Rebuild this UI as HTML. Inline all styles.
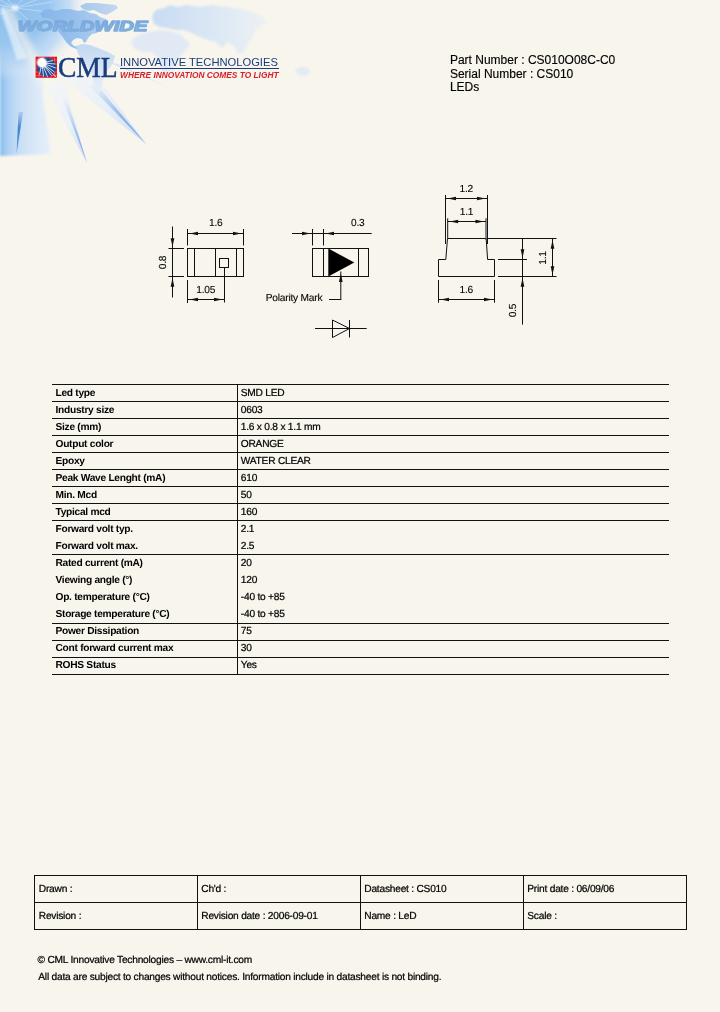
<!DOCTYPE html>
<html>
<head>
<meta charset="utf-8">
<title>CML CS010O08C-C0</title>
<style>
html,body{margin:0;padding:0;}
body{width:720px;height:1012px;position:relative;overflow:hidden;background:#f8f5ed;font-family:"Liberation Sans",sans-serif;color:#000;}
#wrap{position:absolute;left:0;top:0;width:720px;height:1012px;will-change:transform;}
.abs{position:absolute;white-space:nowrap;}
#bg{position:absolute;left:0;top:0;}
.hl{position:absolute;left:52px;width:617px;height:1px;background:#111;}
.lab{position:absolute;left:55.5px;font-weight:bold;font-size:10.2px;letter-spacing:-0.28px;text-rendering:geometricPrecision;line-height:12px;white-space:nowrap;}
.val{-webkit-text-stroke:0.22px #000;position:absolute;left:240.8px;font-size:10.2px;letter-spacing:-0.23px;text-rendering:geometricPrecision;line-height:12px;white-space:nowrap;}
.ft{-webkit-text-stroke:0.22px #000;position:absolute;font-size:10.2px;letter-spacing:-0.23px;text-rendering:geometricPrecision;line-height:12px;white-space:nowrap;}
</style>
</head>
<body>
<div id="wrap">
<svg id="bg" width="720" height="260" viewBox="0 0 720 260">
<defs>
<radialGradient id="glow" cx="0" cy="0" r="1" gradientUnits="userSpaceOnUse" gradientTransform="translate(8,6) scale(80,74)">
<stop offset="0" stop-color="#8abeee" stop-opacity="1"/>
<stop offset="0.5" stop-color="#97c5ef" stop-opacity="1"/>
<stop offset="0.78" stop-color="#b8d6f3" stop-opacity="0.7"/>
<stop offset="1" stop-color="#e8f0f8" stop-opacity="0"/>
</radialGradient>
<linearGradient id="band" x1="0" y1="0" x2="52" y2="0" gradientUnits="userSpaceOnUse">
<stop offset="0" stop-color="#86bdee"/>
<stop offset="0.12" stop-color="#a6cdf2"/>
<stop offset="0.3" stop-color="#c2dbf5"/>
<stop offset="0.55" stop-color="#d5e5f7"/>
<stop offset="1" stop-color="#e7f0fa"/>
</linearGradient>
<linearGradient id="mapg" x1="40" y1="0" x2="330" y2="0" gradientUnits="userSpaceOnUse">
<stop offset="0" stop-color="#84b5e8"/>
<stop offset="0.12" stop-color="#98c0ec"/>
<stop offset="0.25" stop-color="#b9d3f0"/>
<stop offset="0.45" stop-color="#d9e6f4"/>
<stop offset="1" stop-color="#e3ebf4"/>
</linearGradient>
<linearGradient id="eug" x1="148" y1="0" x2="270" y2="0" gradientUnits="userSpaceOnUse">
<stop offset="0" stop-color="#c6dbf2"/>
<stop offset="0.4" stop-color="#d6e4f4"/>
<stop offset="0.8" stop-color="#e6edf4"/>
<stop offset="1" stop-color="#f0f2f1"/>
</linearGradient>
<linearGradient id="sag" x1="0" y1="44" x2="0" y2="96" gradientUnits="userSpaceOnUse">
<stop offset="0" stop-color="#bcd6f2"/>
<stop offset="0.5" stop-color="#d5e4f5"/>
<stop offset="1" stop-color="#eaf0f6"/>
</linearGradient>
<linearGradient id="ww" x1="0" y1="19" x2="0" y2="33" gradientUnits="userSpaceOnUse">
<stop offset="0" stop-color="#6da2da"/>
<stop offset="1" stop-color="#9dc2ea"/>
</linearGradient>
<linearGradient id="ray2" x1="50" y1="85" x2="86" y2="162" gradientUnits="userSpaceOnUse">
<stop offset="0" stop-color="#f0f4fa" stop-opacity="0.6"/>
<stop offset="0.55" stop-color="#e9f0f9"/>
<stop offset="1" stop-color="#cddef4"/>
</linearGradient>
<linearGradient id="ray2e" x1="60" y1="100" x2="86" y2="162" gradientUnits="userSpaceOnUse">
<stop offset="0" stop-color="#a9c6ec" stop-opacity="0"/>
<stop offset="0.6" stop-color="#8db3e4" stop-opacity="0.9"/>
<stop offset="1" stop-color="#6f9fdb"/>
</linearGradient>
<linearGradient id="ray3" x1="70" y1="75" x2="145" y2="143" gradientUnits="userSpaceOnUse">
<stop offset="0" stop-color="#f0f4fa" stop-opacity="0.6"/>
<stop offset="0.5" stop-color="#e6eef9"/>
<stop offset="1" stop-color="#cddef4"/>
</linearGradient>
<linearGradient id="ray3e" x1="85" y1="88" x2="145" y2="143" gradientUnits="userSpaceOnUse">
<stop offset="0" stop-color="#a9c6ec" stop-opacity="0"/>
<stop offset="0.55" stop-color="#8db3e4" stop-opacity="0.9"/>
<stop offset="1" stop-color="#6f9fdb"/>
</linearGradient>
<linearGradient id="ray1" x1="0" y1="110" x2="0" y2="154" gradientUnits="userSpaceOnUse">
<stop offset="0" stop-color="#7fb0e6" stop-opacity="0.3"/>
<stop offset="0.4" stop-color="#4584cf"/>
<stop offset="1" stop-color="#5b95d8"/>
</linearGradient>
<filter id="b1" x="-20%" y="-20%" width="140%" height="140%"><feGaussianBlur stdDeviation="1.2"/></filter>
<filter id="b2" x="-30%" y="-30%" width="160%" height="160%"><feGaussianBlur stdDeviation="3"/></filter>
<filter id="b05" x="-20%" y="-20%" width="140%" height="140%"><feGaussianBlur stdDeviation="0.5"/></filter>
</defs>
<polygon points="0,0 74,0 64,14 58,38 50,56 45,76 43,100 47,126 51,154 0,156" fill="url(#band)" filter="url(#b1)"/>
<rect x="0" y="0" width="140" height="110" fill="url(#glow)"/>
<polygon points="3,9 9,6 62,98 48,100" fill="#f8f5ed" opacity="0.7" filter="url(#b2)"/>
<polygon points="0,9 4,7 27,58 17,60" fill="#f2f8fd" opacity="0.6" filter="url(#b1)"/>
<line x1="15" y1="8" x2="0" y2="0" stroke="#e8f3fc" stroke-width="0.8" opacity="0.55"/>
<line x1="15" y1="8" x2="8" y2="0" stroke="#e8f3fc" stroke-width="0.8" opacity="0.55"/>
<line x1="15" y1="8" x2="22" y2="0" stroke="#e8f3fc" stroke-width="0.8" opacity="0.55"/>
<line x1="15" y1="8" x2="36" y2="0" stroke="#e8f3fc" stroke-width="0.8" opacity="0.55"/>
<line x1="15" y1="8" x2="52" y2="2" stroke="#e8f3fc" stroke-width="0.8" opacity="0.55"/>
<line x1="15" y1="8" x2="48" y2="12" stroke="#e8f3fc" stroke-width="0.8" opacity="0.55"/>
<line x1="15" y1="8" x2="0" y2="5" stroke="#e8f3fc" stroke-width="0.8" opacity="0.55"/>
<line x1="15" y1="8" x2="0" y2="14" stroke="#e8f3fc" stroke-width="0.8" opacity="0.55"/>
<line x1="15" y1="8" x2="30" y2="22" stroke="#e8f3fc" stroke-width="0.8" opacity="0.55"/>
<circle cx="15" cy="8" r="3.5" fill="#fff" opacity="0.6" filter="url(#b1)"/>
<polygon points="45,86 64,80 87,163" fill="url(#ray2)" filter="url(#b05)"/>
<polygon points="62,98 66,96 87,163" fill="url(#ray2e)" filter="url(#b05)"/>
<polygon points="60,76 98,78 146,144" fill="url(#ray3)" filter="url(#b05)"/>
<polygon points="88,84 96,84 146,144" fill="url(#ray3e)" filter="url(#b05)"/>
<polygon points="18.5,112 23,112 16.5,154" fill="url(#ray1)" filter="url(#b05)"/>
<polygon points="108,62 118,64 170,88" fill="#cfdff3" opacity="0.7" filter="url(#b05)"/>
<polygon points="40,14 44,10 50,9 56,11 62,9 70,9 78,11 84,10 90,13 96,14 100,17 106,19 108,22 103,25 98,26 101,29 97,33 92,34 88,38 86,42 84,43 82,39 77,38 73,40 71,43 74,46 78,47 80,50 76,49 70,46 66,42 62,36 58,31 55,25 52,20 47,18 43,18" fill="url(#mapg)" filter="url(#b05)"/>
<polygon points="80,6 86,3 96,3 106,4 116,5 118,8 112,12 106,15 100,13 94,10 88,11 83,9" fill="url(#mapg)" filter="url(#b05)" opacity="0.9"/>
<polygon points="76,46 82,44 90,45 98,48 108,52 115,56 113,63 108,70 104,78 101,88 99,94 96,90 93,80 90,70 84,62 78,54" fill="url(#sag)" filter="url(#b05)" opacity="0.9"/>
<polygon points="152,16 156,10 164,8 170,5 178,7 186,5 198,7 212,5 226,7 240,9 252,12 262,16 268,22 262,26 256,30 252,38 248,44 244,52 238,54 234,46 228,42 222,48 216,42 208,40 198,36 190,32 184,30 176,30 168,28 160,27 154,24" fill="url(#eug)" filter="url(#b1)"/>
<polygon points="134,38 140,34 150,32 160,30 170,31 180,34 186,40 190,44 186,50 180,56 176,62 172,70 166,74 160,68 158,58 152,52 142,52 134,48 131,42" fill="#dbe7f5" filter="url(#b1)" opacity="0.8"/>
<polygon points="296,69 302,67 308,68 310,72 306,76 299,75 296,72" fill="#dfe9f5" filter="url(#b1)" opacity="0.9"/>
<text x="17.6" y="31.4" font-family="Liberation Sans, sans-serif" font-weight="bold" font-style="italic" font-size="14.8" fill="url(#ww)" stroke="#7cabde" stroke-width="1.3" stroke-linejoin="round" textLength="130" lengthAdjust="spacingAndGlyphs">WORLDWIDE</text>
</svg>

<div class="abs" id="pn0" style="left:449.9px;top:52.84px;font-size:12px;line-height:14px;-webkit-text-stroke:0.15px #000">Part Number : CS010O08C-C0</div>
<div class="abs" id="pn1" style="left:449.9px;top:67.44px;font-size:12px;line-height:14px;-webkit-text-stroke:0.15px #000">Serial Number : CS010</div>
<div class="abs" id="pn2" style="left:449.9px;top:80.04px;font-size:12px;line-height:14px;-webkit-text-stroke:0.15px #000">LEDs</div>
<svg class="abs" style="left:35px;top:56px" width="23" height="23" viewBox="0 0 23 23">
<rect x="0.6" y="0.7" width="21.4" height="21.1" fill="#e2141f"/>
<g stroke="#f4b8b8" stroke-width="0.5" opacity="0.7">
<line x1="0.5" y1="4" x2="22" y2="4"/><line x1="0.5" y1="8" x2="22" y2="8"/><line x1="0.5" y1="12" x2="22" y2="12"/><line x1="0.5" y1="16" x2="22" y2="16"/><line x1="0.5" y1="19.5" x2="22" y2="19.5"/>
<line x1="4" y1="0.7" x2="4" y2="21.3"/><line x1="8" y1="0.7" x2="8" y2="21.3"/><line x1="12" y1="0.7" x2="12" y2="21.3"/><line x1="16" y1="0.7" x2="16" y2="21.3"/><line x1="19.5" y1="0.7" x2="19.5" y2="21.3"/>
</g>
<circle cx="11.6" cy="11.2" r="9.6" fill="#214b97"/>
<g stroke="#dfe8f5" stroke-width="0.9" stroke-linecap="butt">
<line x1="7" y1="7" x2="20.5" y2="8"/><line x1="7" y1="7" x2="20.8" y2="12"/><line x1="7" y1="7" x2="19.5" y2="16"/><line x1="7" y1="7" x2="16.5" y2="19.5"/><line x1="7" y1="7" x2="12.5" y2="20.8"/><line x1="7" y1="7" x2="8.5" y2="20.5"/><line x1="7" y1="7" x2="4.5" y2="18.5"/><line x1="7" y1="7" x2="18" y2="4.5"/>
</g>
<line x1="7" y1="7" x2="21.5" y2="21.3" stroke="#f6dede" stroke-width="0.9"/>
<circle cx="6.9" cy="6.6" r="4.5" fill="#ffffff"/>
<circle cx="6.9" cy="6.6" r="5.8" fill="#ffffff" opacity="0.35"/>
</svg>
<div class="abs" id="cml" style="left:58px;top:47.2px;font-family:'Liberation Serif',serif;font-size:30px;line-height:40px;color:#1a3d7e;-webkit-text-stroke:0.55px #1a3d7e;transform-origin:0 0;transform:scaleX(0.918)">CML</div>
<div class="abs" id="it" style="left:120px;top:55.12px;font-size:11.2px;line-height:14px;color:#1b3c7d;">INNOVATIVE TECHNOLOGIES</div>
<div class="abs" style="left:119.5px;top:67.6px;width:159.5px;height:1.1px;background:#1b3c7d"></div>
<div class="abs" id="wh" style="left:120px;top:69.61px;font-size:8.35px;line-height:11px;color:#d61f2c;font-weight:bold;font-style:italic;">WHERE INNOVATION COMES TO LIGHT</div>

<svg class="abs" style="left:0;top:0" width="720" height="360" viewBox="0 0 720 360" font-family="Liberation Sans, sans-serif" fill="#000" text-rendering="geometricPrecision" letter-spacing="-0.23">
<rect x="187.5" y="248.5" width="56.0" height="28.0" fill="none" stroke="#111" stroke-width="1"/>
<line x1="194.5" y1="248.5" x2="194.5" y2="276.5" stroke="#111" stroke-width="1"/>
<line x1="215.5" y1="248.5" x2="215.5" y2="276.5" stroke="#111" stroke-width="1"/>
<line x1="236.5" y1="248.5" x2="236.5" y2="276.5" stroke="#111" stroke-width="1"/>
<rect x="219.5" y="258.5" width="9" height="9" fill="none" stroke="#111" stroke-width="1"/>
<line x1="224.5" y1="267.5" x2="224.5" y2="302.5" stroke="#111" stroke-width="1"/>
<line x1="187.5" y1="229" x2="187.5" y2="245.5" stroke="#111" stroke-width="1"/>
<line x1="243.5" y1="229" x2="243.5" y2="245.5" stroke="#111" stroke-width="1"/>
<line x1="187.5" y1="233.5" x2="243.5" y2="233.5" stroke="#111" stroke-width="1"/>
<line x1="172.5" y1="226.5" x2="172.5" y2="297.5" stroke="#111" stroke-width="1"/>
<line x1="168.5" y1="248.5" x2="184" y2="248.5" stroke="#111" stroke-width="1"/>
<line x1="168.5" y1="276.5" x2="184" y2="276.5" stroke="#111" stroke-width="1"/>
<line x1="187.5" y1="280" x2="187.5" y2="303" stroke="#111" stroke-width="1"/>
<line x1="187.5" y1="299.5" x2="224.5" y2="299.5" stroke="#111" stroke-width="1"/>
<rect x="312.5" y="248.5" width="56.0" height="28.0" fill="none" stroke="#111" stroke-width="1"/>
<line x1="323.5" y1="248.5" x2="323.5" y2="276.5" stroke="#111" stroke-width="1"/>
<line x1="358.5" y1="248.5" x2="358.5" y2="276.5" stroke="#111" stroke-width="1"/>
<line x1="312.5" y1="229" x2="312.5" y2="245.5" stroke="#111" stroke-width="1"/>
<line x1="323.5" y1="229" x2="323.5" y2="245.5" stroke="#111" stroke-width="1"/>
<line x1="292" y1="233.5" x2="371.7" y2="233.5" stroke="#111" stroke-width="1"/>
<line x1="340.8" y1="271.5" x2="340.8" y2="299.5" stroke="#111" stroke-width="1"/>
<line x1="329" y1="299.5" x2="341.3" y2="299.5" stroke="#111" stroke-width="1"/>
<line x1="315" y1="328.5" x2="366.7" y2="328.5" stroke="#111" stroke-width="1"/>
<polygon points="332.5,320 332.5,337.5 349.5,328.5" fill="none" stroke="#111" stroke-width="1"/>
<line x1="349.5" y1="320" x2="349.5" y2="337.5" stroke="#111" stroke-width="1"/>
<path d="M438.5,259.5 H445.8 L447.5,238.5 H486.2 L487.6,259.5 H494.5 V276.5 H438.5 Z" fill="none" stroke="#111" stroke-width="1"/>
<line x1="486.3" y1="238.5" x2="556.5" y2="238.5" stroke="#111" stroke-width="1"/>
<line x1="498" y1="259.5" x2="527" y2="259.5" stroke="#111" stroke-width="1"/>
<line x1="498" y1="276.5" x2="556.5" y2="276.5" stroke="#111" stroke-width="1"/>
<line x1="445.5" y1="195" x2="445.5" y2="244" stroke="#111" stroke-width="1"/>
<line x1="487.5" y1="195" x2="487.5" y2="244" stroke="#111" stroke-width="1"/>
<line x1="445.5" y1="198.5" x2="487.5" y2="198.5" stroke="#111" stroke-width="1"/>
<line x1="447.7" y1="218.3" x2="447.7" y2="238.5" stroke="#111" stroke-width="1"/>
<line x1="486" y1="218.3" x2="486" y2="240" stroke="#555" stroke-width="1.4"/>
<line x1="447.7" y1="221.5" x2="486" y2="221.5" stroke="#111" stroke-width="1"/>
<line x1="438.5" y1="280" x2="438.5" y2="302.7" stroke="#111" stroke-width="1"/>
<line x1="494.5" y1="280" x2="494.5" y2="302.7" stroke="#111" stroke-width="1"/>
<line x1="438.5" y1="299.5" x2="494.5" y2="299.5" stroke="#111" stroke-width="1"/>
<line x1="522.5" y1="238.5" x2="522.5" y2="324.6" stroke="#111" stroke-width="1"/>
<line x1="552.5" y1="238.5" x2="552.5" y2="276.5" stroke="#111" stroke-width="1"/>
<polygon points="189.5,233.5 198.00,231.65 198.00,235.35" fill="#111"/>
<polygon points="241.5,233.5 233.00,235.35 233.00,231.65" fill="#111"/>
<polygon points="172.5,246.7 170.65,238.20 174.35,238.20" fill="#111"/>
<polygon points="172.5,278.3 174.35,286.80 170.65,286.80" fill="#111"/>
<polygon points="189.5,299.5 198.00,297.65 198.00,301.35" fill="#111"/>
<polygon points="222.5,299.5 214.00,301.35 214.00,297.65" fill="#111"/>
<polygon points="328.3,248.5 328.3,276.5 354.3,262.5" fill="#000"/>
<polygon points="310.5,233.5 302.00,235.35 302.00,231.65" fill="#111"/>
<polygon points="325.5,233.5 334.00,231.65 334.00,235.35" fill="#111"/>
<polygon points="340.8,273.5 342.65,282.00 338.95,282.00" fill="#111"/>
<polygon points="447.5,198.5 456.00,196.65 456.00,200.35" fill="#111"/>
<polygon points="485.5,198.5 477.00,200.35 477.00,196.65" fill="#111"/>
<polygon points="449.7,221.5 458.20,219.65 458.20,223.35" fill="#111"/>
<polygon points="484.0,221.5 475.50,223.35 475.50,219.65" fill="#111"/>
<polygon points="440.5,299.5 449.00,297.65 449.00,301.35" fill="#111"/>
<polygon points="492.5,299.5 484.00,301.35 484.00,297.65" fill="#111"/>
<polygon points="522.5,257.8 520.65,249.30 524.35,249.30" fill="#111"/>
<polygon points="522.5,278.2 524.35,286.70 520.65,286.70" fill="#111"/>
<polygon points="552.5,240.3 554.35,248.80 550.65,248.80" fill="#111"/>
<polygon points="552.5,274.7 550.65,266.20 554.35,266.20" fill="#111"/>
<text x="215.7" y="226.2" font-size="10.2" text-anchor="middle" stroke="#000" stroke-width="0.1">1.6</text>
<text x="166.3" y="262.5" font-size="10.2" text-anchor="middle" stroke="#000" stroke-width="0.1" transform="rotate(-90 166.3 262.5)">0.8</text>
<text x="205.8" y="293.2" font-size="10.2" text-anchor="middle" stroke="#000" stroke-width="0.1">1.05</text>
<text x="357.8" y="226" font-size="10.2" text-anchor="middle" stroke="#000" stroke-width="0.1">0.3</text>
<text x="265.8" y="300.6" font-size="10.2" text-anchor="start" stroke="#000" stroke-width="0.1">Polarity Mark</text>
<text x="466.3" y="192" font-size="10.2" text-anchor="middle" stroke="#000" stroke-width="0.1">1.2</text>
<text x="466.5" y="215" font-size="10.2" text-anchor="middle" stroke="#000" stroke-width="0.1">1.1</text>
<text x="466.3" y="293" font-size="10.2" text-anchor="middle" stroke="#000" stroke-width="0.1">1.6</text>
<text x="516.4" y="310.6" font-size="10.2" text-anchor="middle" stroke="#000" stroke-width="0.1" transform="rotate(-90 516.4 310.6)">0.5</text>
<text x="546" y="258" font-size="10.2" text-anchor="middle" stroke="#000" stroke-width="0.1" transform="rotate(-90 546 258)">1.1</text>
</svg>

<div class="hl" style="top:384px"></div>
<div class="hl" style="top:401px"></div>
<div class="hl" style="top:418px"></div>
<div class="hl" style="top:435px"></div>
<div class="hl" style="top:452px"></div>
<div class="hl" style="top:469px"></div>
<div class="hl" style="top:486px"></div>
<div class="hl" style="top:503px"></div>
<div class="hl" style="top:520px"></div>
<div class="hl" style="top:554px"></div>
<div class="hl" style="top:623px"></div>
<div class="hl" style="top:640px"></div>
<div class="hl" style="top:657px"></div>
<div class="hl" style="top:674px"></div>
<div style="position:absolute;left:237px;top:384px;width:1px;height:291px;background:#111"></div>
<div class="lab" id="l0" style="top:388.2px">Led type</div><div class="val" id="v0" style="top:388.2px">SMD LED</div>
<div class="lab" id="l1" style="top:405.2px">Industry size</div><div class="val" id="v1" style="top:405.2px">0603</div>
<div class="lab" id="l2" style="top:422.2px">Size (mm)</div><div class="val" id="v2" style="top:422.2px">1.6 x 0.8 x 1.1 mm</div>
<div class="lab" id="l3" style="top:439.2px">Output color</div><div class="val" id="v3" style="top:439.2px">ORANGE</div>
<div class="lab" id="l4" style="top:456.2px">Epoxy</div><div class="val" id="v4" style="top:456.2px">WATER CLEAR</div>
<div class="lab" id="l5" style="top:473.2px">Peak Wave Lenght (mA)</div><div class="val" id="v5" style="top:473.2px">610</div>
<div class="lab" id="l6" style="top:490.2px">Min. Mcd</div><div class="val" id="v6" style="top:490.2px">50</div>
<div class="lab" id="l7" style="top:507.2px">Typical mcd</div><div class="val" id="v7" style="top:507.2px">160</div>
<div class="lab" id="l8" style="top:524.2px">Forward volt typ.</div><div class="val" id="v8" style="top:524.2px">2.1</div>
<div class="lab" id="l9" style="top:541.2px">Forward volt max.</div><div class="val" id="v9" style="top:541.2px">2.5</div>
<div class="lab" id="l10" style="top:558.2px">Rated current (mA)</div><div class="val" id="v10" style="top:558.2px">20</div>
<div class="lab" id="l11" style="top:575.2px">Viewing angle (°)</div><div class="val" id="v11" style="top:575.2px">120</div>
<div class="lab" id="l12" style="top:592.2px">Op. temperature (°C)</div><div class="val" id="v12" style="top:592.2px">-40 to +85</div>
<div class="lab" id="l13" style="top:609.2px">Storage temperature (°C)</div><div class="val" id="v13" style="top:609.2px">-40 to +85</div>
<div class="lab" id="l14" style="top:626.2px">Power Dissipation</div><div class="val" id="v14" style="top:626.2px">75</div>
<div class="lab" id="l15" style="top:643.2px">Cont forward current max</div><div class="val" id="v15" style="top:643.2px">30</div>
<div class="lab" id="l16" style="top:660.2px">ROHS Status</div><div class="val" id="v16" style="top:660.2px">Yes</div>

<div style="position:absolute;left:34px;top:875px;width:651px;height:53px;border:1px solid #111"></div>
<div style="position:absolute;left:34px;top:902px;width:653px;height:1px;background:#111"></div>
<div style="position:absolute;left:197px;top:875px;width:1px;height:55px;background:#111"></div>
<div style="position:absolute;left:360px;top:875px;width:1px;height:55px;background:#111"></div>
<div style="position:absolute;left:523px;top:875px;width:1px;height:55px;background:#111"></div>
<div class="ft" id="f38_0" style="left:38.8px;top:884.3px">Drawn :</div>
<div class="ft" id="f201_0" style="left:201.3px;top:884.3px">Ch'd :</div>
<div class="ft" id="f364_0" style="left:364.3px;top:884.3px">Datasheet : CS010</div>
<div class="ft" id="f527_0" style="left:527.3px;top:884.3px">Print date : 06/09/06</div>
<div class="ft" id="f38_1" style="left:38.8px;top:911.1px">Revision :</div>
<div class="ft" id="f201_1" style="left:201.3px;top:911.1px">Revision date : 2006-09-01</div>
<div class="ft" id="f364_1" style="left:364.3px;top:911.1px">Name : LeD</div>
<div class="ft" id="f527_1" style="left:527.3px;top:911.1px">Scale :</div>
<div class="ft" id="fl1" style="left:37.6px;top:954.9px">© CML Innovative Technologies – www.cml-it.com</div>
<div class="ft" id="fl2" style="left:38.3px;top:971.7px">All data are subject to changes without notices. Information include in datasheet is not binding.</div>

</div>
</body>
</html>
